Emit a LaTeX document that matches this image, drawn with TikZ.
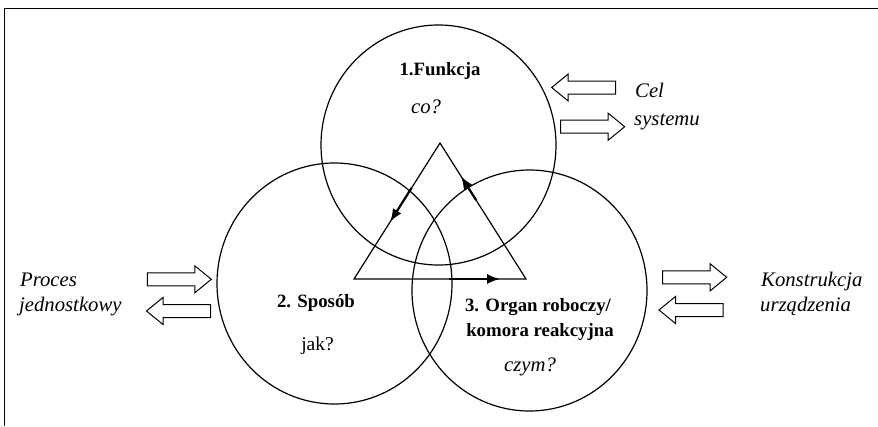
\documentclass[tikz,border=0pt]{standalone}
\usepackage{fontspec}
\setmainfont{Liberation Serif}
\usetikzlibrary{shapes.geometric,arrows.meta,calc}
\tikzset{
  ring/.style={ellipse, draw, line width=1.2pt, minimum width=235pt, minimum height=240pt, inner sep=0pt},
  txt/.style={inner sep=0pt, font=\fontsize{19.5}{24}\selectfont},
  btxt/.style={inner sep=0pt, font=\fontsize{18.8}{24}\selectfont\bfseries},
  itxt/.style={inner sep=0pt, font=\fontsize{20.7}{24}\selectfont\itshape},
  tri/.style={line width=1.2pt, line join=miter},
  triarrow/.style={line width=2.2pt, -{Latex[length=13pt,width=10pt]}},
  rblock/.pic={\draw[line width=1pt, fill=white, line join=miter]
     (0,-6.5) -- (47.5,-6.5) -- (47.5,-13.5) -- (64,0) -- (47.5,13.5) -- (47.5,6.5) -- (0,6.5) -- cycle;},
  lblock/.pic={\draw[line width=1pt, fill=white, line join=miter]
     (0,-6.5) -- (-47.5,-6.5) -- (-47.5,-13.5) -- (-64,0) -- (-47.5,13.5) -- (-47.5,6.5) -- (0,6.5) -- cycle;}
}
\begin{document}
\begin{tikzpicture}[x=1pt,y=-1pt]
\useasboundingbox (0,0) rectangle (878,426);
% frame
\draw[line width=1pt] (878,8) -- (4,8) -- (4,426);
% circles
\node[ring] (c1) at (438.5,145) {};
\node[ring, minimum height=241pt] (c2) at (334.5,283.5) {};
\node[ring, minimum height=241pt] (c3) at (529.5,290.5) {};
% triangle
\coordinate (A) at (440,143);
\coordinate (L) at (354,279);
\coordinate (R) at (526,279);
\draw[tri] (A) -- (L) -- (R) -- cycle;
\draw[triarrow] ($(A)!0.33!(L)$) -- ($(A)!0.58!(L)$);
\draw[triarrow] ($(R)!0.58!(A)$) -- ($(R)!0.755!(A)$);
\draw[triarrow] ($(L)!0.555!(R)$) -- ($(L)!0.85!(R)$);
% block arrows
\pic at (615.7,87.5) {lblock};
\pic at (560.7,126.7) {rblock};
\pic at (147.3,279.3) {rblock};
\pic at (210.5,311) {lblock};
\pic at (662.7,277.3) {rblock};
\pic at (723,310) {lblock};
% texts
\node[btxt, anchor=base] (f1) at (440,75) {1.Funkcja};
\node[itxt, anchor=base] (f1q) at (426,113) {co?};
\node[btxt, anchor=base] (s2) at (316,307) {2. Sposób};
\node[txt, anchor=base] (s2q) at (317.5,350) {jak?};
\node[btxt, anchor=base] (o3a) at (538,311) {3. Organ roboczy/};
\node[btxt, anchor=base] (o3b) at (540,336) {komora reakcyjna};
\node[itxt, anchor=base] (o3q) at (530,371) {czym?};
\node[itxt, anchor=base west] (p1) at (20,286) {Proces};
\node[itxt, anchor=base west] (p2) at (19,311) {jednostkowy};
\node[itxt, anchor=base west] (k1) at (761,286) {Konstrukcja};
\node[itxt, anchor=base west] (k2) at (760,311) {urządzenia};
\node[itxt, anchor=base west] (g1) at (635,97) {Cel};
\node[itxt, anchor=base west] (g2) at (634,125) {systemu};
\end{tikzpicture}
\end{document}
